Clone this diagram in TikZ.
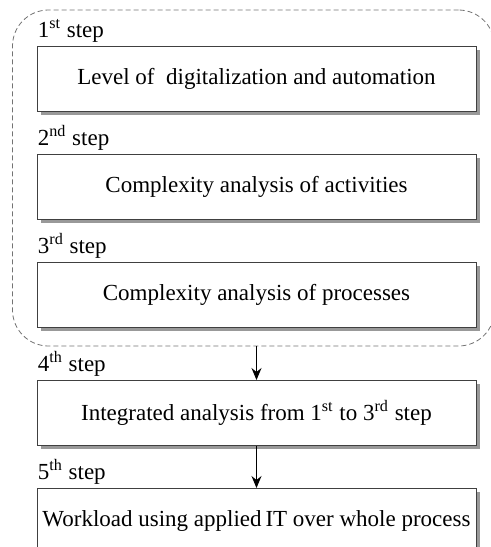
\documentclass[tikz,border=0pt]{standalone}
\usepackage{fontspec}
\setmainfont{Liberation Serif}
\usetikzlibrary{positioning, fit, shadows, arrows.meta}
\tikzstyle{stepbox} = [rectangle, draw=black!75, line width=0.5pt, fill=white, inner xsep=1pt, minimum width=219.5pt, minimum height=32.5pt, text centered, drop shadow={shadow xshift=1.8pt, shadow yshift=-1.8pt, fill=black!40, opacity=1}]
\tikzstyle{steplabel} = [anchor=base west, inner sep=0pt]
\tikzstyle{arrow} = [line width=0.5pt, ->, >={Stealth[length=6pt, width=5pt, inset=2pt]}]
\tikzstyle{group} = [draw=black!55, line width=0.4pt, dash pattern=on 2.5pt off 1.5pt, rounded corners=18pt, inner sep=0pt]

\begin{document}
\begin{tikzpicture}[x=0.5pt, y=-0.5pt, node distance=21pt, font=\fontsize{11.5}{13.8}\selectfont]
  \useasboundingbox (0,0) rectangle (491,547);

  \node (box1) [stepbox] at (256.5,79) {Level of\ \ digitalization and automation};
  \node (box2) [stepbox, below=of box1] {Complexity analysis of activities};
  \node (box3) [stepbox, below=of box2] {Complexity analysis of processes};
  \node (box4) [stepbox, below=26pt of box3] {Integrated analysis from 1\textsuperscript{st} to 3\textsuperscript{rd} step};
  \node (box5) [stepbox, below=of box4] {Workload using applied\,IT over whole process};

  % step labels
  \node (label1) [steplabel] at ([xshift=0.5pt, yshift=4.5pt]box1.north west) {1\textsuperscript{st} step};
  \node (label2) [steplabel] at ([xshift=0.5pt, yshift=4.5pt]box2.north west) {2\textsuperscript{nd} step};
  \node (label3) [steplabel] at ([xshift=0.5pt, yshift=4.5pt]box3.north west) {3\textsuperscript{rd} step};
  \node (label4) [steplabel] at ([xshift=0.5pt, yshift=4.5pt]box4.north west) {4\textsuperscript{th} step};
  \node (label5) [steplabel] at ([xshift=0.5pt, yshift=4.5pt]box5.north west) {5\textsuperscript{th} step};

  % dashed frame round steps 1-3
  \coordinate (frameNW) at ([xshift=-12pt, yshift=18pt]box1.north west);
  \coordinate (frameSE) at ([xshift=9pt, yshift=-9pt]box3.south east);
  \node (frame) [group, fit=(frameNW)(frameSE)] {};

  \draw [arrow] (frame.south -| box4.north) -- (box4.north);
  \draw [arrow] (box4.south) -- (box5.north);
\end{tikzpicture}
\end{document}
